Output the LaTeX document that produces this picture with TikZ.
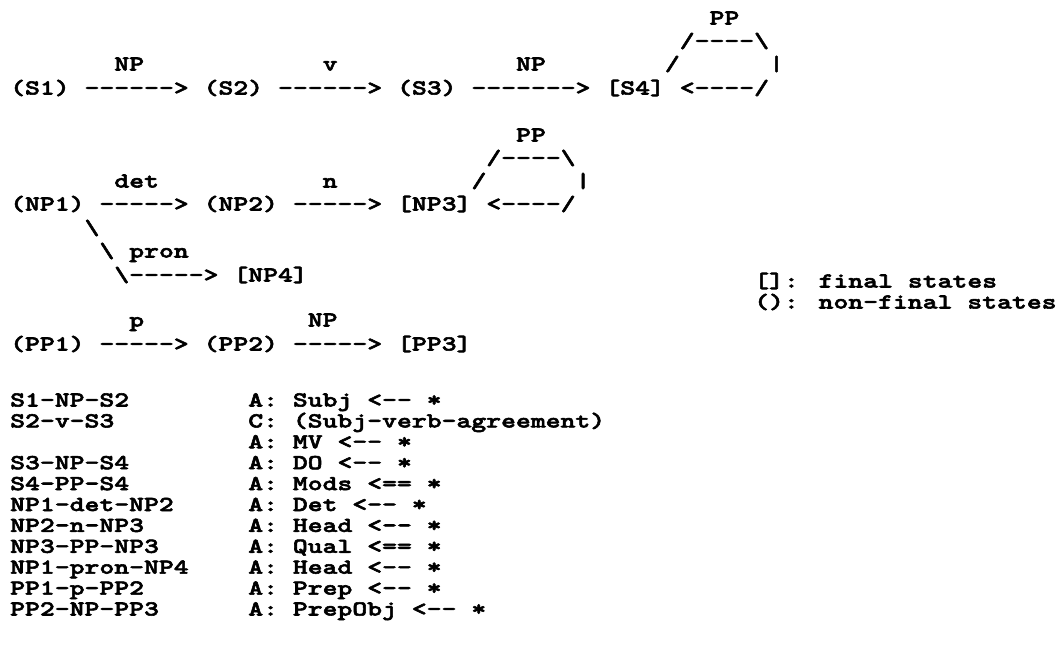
\documentclass[tikz,border=0pt]{standalone}
\usepackage{fontspec}
\newfontfamily\twf{lmmonolt10-bold.otf}[FakeStretch=1.33, FakeBold=2.6, Ligatures=TeXOff]
\newcommand\BS{\textbackslash}
% \tx{name}{column}{line centre y}{text}
\newcommand\tx[4]{\node[tw] (#1) at ({10+14.88*#2},{#3+6.5}) {#4};}
\begin{document}
\begin{tikzpicture}[x=1pt,y=-1pt,
  tw/.style={font={\twf\fontsize{21.3pt}{22pt}\selectfont},inner sep=0pt,anchor=base west}]
\useasboundingbox[fill=white] (0,0) rectangle (1061,651);
% ---------------- S network
\tx{spp}{47}{18}{PP}
\tx{stop}{45}{41}{/----\BS}
\tx{lnp1}{7}{64}{NP}
\tx{lv}{21}{64}{v}
\tx{lnp2}{34}{64}{NP}
\tx{sup}{44}{64}{/}
\tx{sbar}{51}{64}{|}
\tx{s1}{0}{88}{(S1)}
\tx{a1}{5}{88}{------>}
\tx{s2}{13}{88}{(S2)}
\tx{a2}{18}{88}{------>}
\tx{s3}{26}{88}{(S3)}
\tx{a3}{31}{88}{------->}
\tx{s4}{40}{88}{[S4]}
\tx{sback}{45}{88}{<----/}
% ---------------- NP network
\tx{npp}{34}{135}{PP}
\tx{ntop}{32}{158}{/----\BS}
\tx{ldet}{7}{181}{det}
\tx{ln}{21}{181}{n}
\tx{nup}{31}{181}{/}
\tx{nbar}{38}{181}{|}
\tx{np1}{0}{204}{(NP1)}
\tx{b1}{6}{204}{----->}
\tx{np2}{13}{204}{(NP2)}
\tx{b2}{19}{204}{----->}
\tx{np3}{26}{204}{[NP3]}
\tx{nback}{32}{204}{<----/}
\tx{d1}{5}{228}{\BS}
\tx{d2}{6}{251}{\BS}
\tx{lpron}{8}{251}{pron}
\tx{b3}{7}{275}{\BS----->}
\tx{np4}{15}{275}{[NP4]}
% ---------------- legend
\tx{leg1}{50}{281}{[]: final states}
\tx{leg2}{50}{302}{(): non-final states}
% ---------------- PP network
\tx{lp}{8}{320}{p}
\tx{lnp3}{20}{320}{NP}
\tx{pp1}{0}{344}{(PP1)}
\tx{c1}{6}{344}{----->}
\tx{pp2}{13}{344}{(PP2)}
\tx{c2}{19}{344}{----->}
\tx{pp3}{26}{344}{[PP3]}
% ---------------- arc table
\tx{t1}{0}{400}{S1-NP-S2}        \tx{r1}{16}{400}{A: Subj <-- *}
\tx{t2}{0}{420.9}{S2-v-S3}       \tx{r2}{16}{420.9}{C: (Subj-verb-agreement)}
                                 \tx{r3}{16}{441.8}{A: MV <-- *}
\tx{t4}{0}{462.7}{S3-NP-S4}      \tx{r4}{16}{462.7}{A: DO <-- *}
\tx{t5}{0}{483.6}{S4-PP-S4}      \tx{r5}{16}{483.6}{A: Mods <== *}
\tx{t6}{0}{504.5}{NP1-det-NP2}   \tx{r6}{16}{504.5}{A: Det <-- *}
\tx{t7}{0}{525.4}{NP2-n-NP3}     \tx{r7}{16}{525.4}{A: Head <-- *}
\tx{t8}{0}{546.3}{NP3-PP-NP3}    \tx{r8}{16}{546.3}{A: Qual <== *}
\tx{t9}{0}{567.2}{NP1-pron-NP4}  \tx{r9}{16}{567.2}{A: Head <-- *}
\tx{t10}{0}{588.1}{PP1-p-PP2}    \tx{r10}{16}{588.1}{A: Prep <-- *}
\tx{t11}{0}{609}{PP2-NP-PP3}     \tx{r11}{16}{609}{A: PrepObj <-- *}
\end{tikzpicture}
\end{document}
